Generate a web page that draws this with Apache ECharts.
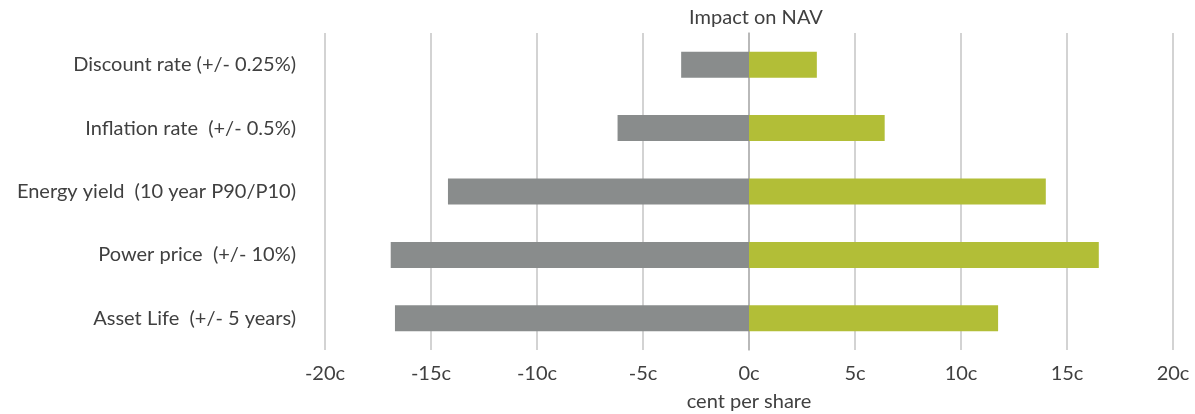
<!DOCTYPE html>
<html>
<head>
    <meta charset="utf-8">
    <title>Impact on NAV</title>
    <script type="text/javascript" src="https://cdn.jsdelivr.net/npm/echarts@6/dist/echarts.min.js"></script>
    <style>
        body { margin: 0; background: #fff; }
    </style>
</head>
<body>
<div id="chartmain" style="width:1195px; height:414px;"></div>

<script type="text/javascript">
    // categories, top to bottom
    var categories = [
        'Discount rate (+/- 0.25%)',
        'Inflation rate  (+/- 0.5%)',
        'Energy yield  (10 year P90/P10)',
        'Power price  (+/- 10%)',
        'Asset Life  (+/- 5 years)'
    ];
    // cent per share
    var downside = [-3.2, -6.2, -14.2, -16.9, -16.7];
    var upside = [3.2, 6.4, 14.0, 16.5, 11.75];
    var xTicks = [-20, -15, -10, -5, 0, 5, 10, 15, 20];

    var font = 'Lato, "Open Sans", sans-serif';

    var option = {
        animation: false,
        title: {
            text: 'Impact on NAV',
            left: 751,
            textAlign: 'center',
            top: 3,
            textStyle: { fontFamily: font, fontSize: 20, fontWeight: 'normal', color: '#404040' }
        },
        grid: { left: 325, right: 22, top: 33, bottom: 64, outerBoundsMode: 'none', containLabel: false },
        xAxis: {
            type: 'value',
            min: xTicks[0],
            max: xTicks[xTicks.length - 1],
            interval: 5,
            name: 'cent per share',
            nameLocation: 'middle',
            nameGap: 42,
            nameTextStyle: { fontFamily: font, fontSize: 20, color: '#404040' },
            axisLine: { show: false },
            axisTick: { show: false },
            axisLabel: {
                margin: 14,
                fontFamily: font, fontSize: 20, color: '#404040',
                formatter: function (v) { return v + 'c'; }
            },
            splitLine: { show: true, lineStyle: { color: '#c4c4c4', width: 1.5 } }
        },
        yAxis: {
            type: 'category',
            data: categories,
            inverse: true,
            axisLine: { show: true, onZero: true, lineStyle: { color: '#b0b0b0', width: 1.5 } },
            axisTick: { show: false },
            axisLabel: { margin: 29, fontFamily: font, fontSize: 20, color: '#404040' }
        },
        series: [
            {
                name: 'Downside',
                type: 'bar',
                stack: 'nav',
                barWidth: 26,
                data: downside,
                itemStyle: { color: '#898c8c' }
            },
            {
                name: 'Upside',
                type: 'bar',
                stack: 'nav',
                barWidth: 26,
                data: upside,
                itemStyle: { color: '#b2be37' }
            }
        ]
    };

    var myChart = echarts.init(document.getElementById('chartmain'));
    myChart.setOption(option);
</script>
</body>
</html>
